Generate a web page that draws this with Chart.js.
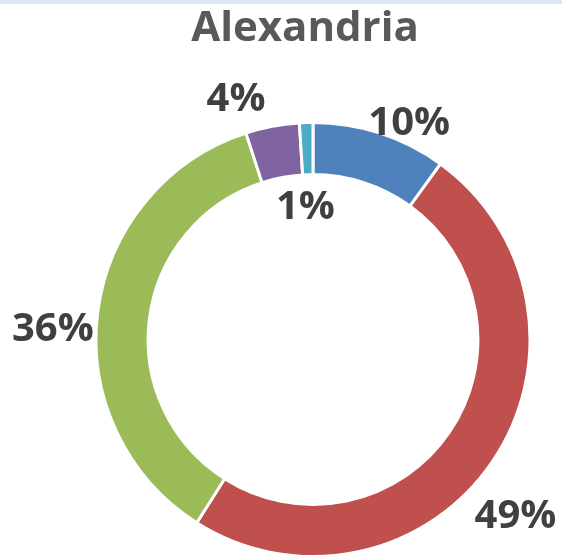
<!DOCTYPE html>
<html>
<head>
<meta charset="utf-8">
<script src="https://cdn.jsdelivr.net/npm/chart.js@4/dist/chart.umd.min.js"></script>
<style>
html,body{margin:0;padding:0;background:#fff;}
#wrap{width:562px;height:558px;position:relative;}
</style>
</head>
<body>
<div id="wrap"><canvas id="c" width="562" height="558"></canvas></div>
<script>
const titleText = "Alexandria";
const categories = ["A", "B", "C", "D", "E"];
const values = [10, 49, 36, 4, 1];
const labels = ["10%", "49%", "36%", "4%", "1%"];
const colors = ["#4F81BD", "#C0504D", "#9BBB59", "#8064A2", "#4BACC6"];
// label placement: radius factor relative to outer radius, angle shift in degrees
const labelRadius = [1.09, 1.24, 1.20, 1.16, 0.61];
const labelAngleShift = [6, 7, -5, -7, -1.5];

const decor = {
  id: 'decor',
  beforeDraw(chart) {
    const ctx = chart.ctx;
    ctx.save();
    ctx.fillStyle = '#DCE6F2';
    ctx.fillRect(0, 0, chart.width, 4);
    ctx.fillStyle = '#595959';
    ctx.font = 'bold 42px "Open Sans", sans-serif';
    ctx.textAlign = 'center';
    ctx.textBaseline = 'middle';
    ctx.fillText(titleText, 305, 29);
    ctx.restore();
  },
  afterDatasetsDraw(chart) {
    const ctx = chart.ctx;
    const meta = chart.getDatasetMeta(0);
    ctx.save();
    ctx.fillStyle = '#404040';
    ctx.font = 'bold 40px "Open Sans", sans-serif';
    ctx.textAlign = 'center';
    ctx.textBaseline = 'middle';
    meta.data.forEach((arc, i) => {
      const p = arc.getProps(['x','y','startAngle','endAngle','outerRadius'], true);
      const mid = (p.startAngle + p.endAngle) / 2 + labelAngleShift[i] * Math.PI / 180;
      const r = p.outerRadius * labelRadius[i];
      ctx.fillText(labels[i], p.x + Math.cos(mid) * r, p.y + Math.sin(mid) * r);
    });
    ctx.restore();
  }
};

new Chart(document.getElementById('c'), {
  type: 'doughnut',
  data: {
    labels: categories,
    datasets: [{
      data: values,
      backgroundColor: colors,
      borderColor: '#ffffff',
      borderWidth: 3,
      hoverOffset: 0
    }]
  },
  options: {
    responsive: false,
    animation: false,
    cutout: '76%',
    layout: { padding: { left: 94, right: 30, top: 121, bottom: 0 } },
    plugins: {
      legend: { display: false },
      title: { display: false },
      tooltip: { enabled: false }
    }
  },
  plugins: [decor]
});
</script>
</body>
</html>
